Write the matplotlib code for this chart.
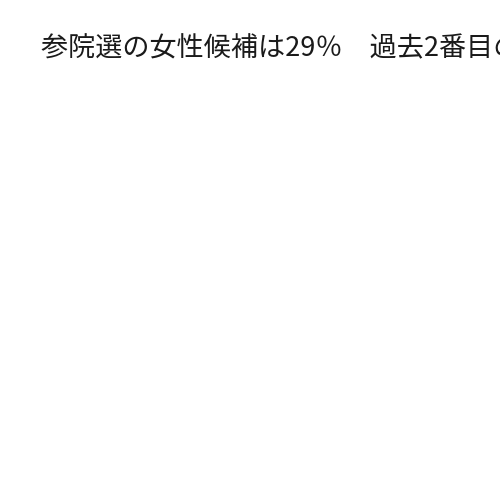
import matplotlib
matplotlib.use('Agg')
import matplotlib.pyplot as plt

plt.rcParams['font.family'] = ['Noto Sans CJK JP', 'DejaVu Sans']

# タイトル（右端ははみ出して切れる）
title_text = "参院選の女性候補は29％　過去2番目の高さ"

fig = plt.figure(figsize=(5, 5), dpi=100)
fig.patch.set_facecolor('white')
fig.text(0.082, 0.903, title_text, fontsize=19.5, color='#1a1a1a',
         ha='left', va='center')

fig.savefig('out.png', dpi=100)
